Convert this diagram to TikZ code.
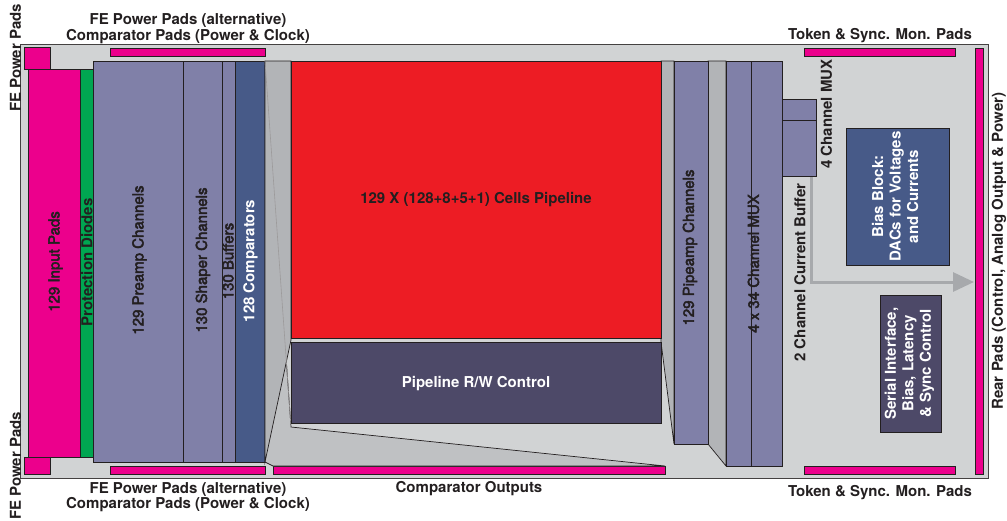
\documentclass[tikz,border=0pt]{standalone}
\usepackage{fontspec}
\setmainfont{TeX Gyre Heros}
\newcommand\medtxt[1]{\special{pdf:literal direct 2 Tr 0.45 w}#1\special{pdf:literal direct 0 Tr}}
\usetikzlibrary{arrows.meta}
\definecolor{chipbg}{HTML}{D1D3D4}
\definecolor{padm}{HTML}{EC008C}
\definecolor{diodeg}{HTML}{00A651}
\definecolor{lav}{HTML}{8080A8}
\definecolor{dblue}{HTML}{475A88}
\definecolor{pred}{HTML}{ED1C24}
\definecolor{rwc}{HTML}{4D4968}
\definecolor{fgrey}{HTML}{B2B4B7}
\definecolor{mgrey}{HTML}{BFC1C3}
\definecolor{agrey}{HTML}{A7A9AC}
\definecolor{edge}{HTML}{231F20}
\begin{document}
\begin{tikzpicture}[x=1pt,y=-1pt,
  blk/.style={draw=edge,line width=0.9pt},
  pad/.style={blk,fill=padm},
  lavbox/.style={blk,fill=lav},
  funnel/.style={fill=fgrey,draw=edge,line width=0.7pt},
  txtb/.style={inner sep=0pt,text height=10.8pt,text depth=0pt,text=edge,
    font=\fontsize{15}{18}\selectfont\bfseries},
  txtr/.style={inner sep=0pt,text height=10.8pt,text depth=0pt,text=edge,
    font=\fontsize{15}{18}\selectfont},
  multi/.style={inner sep=0pt,text=white,align=center,rotate=90,
    font=\fontsize{15}{17.5}\selectfont\bfseries},
  flow/.style={agrey,line width=3pt,-{Triangle[length=21pt,width=19pt]}}]
\useasboundingbox (0,0) rectangle (1007,520);
% chip
\filldraw[fill=chipbg,draw=edge!85,line width=0.8pt] (20,44) rectangle (988,478);
% pads
\filldraw[pad] (24,47) rectangle (50,69);
\filldraw[pad] (24,457) rectangle (50,474);
\filldraw[pad] (110,48) rectangle (265,56);
\filldraw[pad] (110,466) rectangle (265,474);
\filldraw[pad] (273,466) rectangle (665,474);
\filldraw[pad] (804,48) rectangle (955,56);
\filldraw[pad] (804,466) rectangle (955,474);
\filldraw[pad] (975,48) rectangle (983,474);
% front end
\filldraw[pad] (28,69) rectangle (80,457);
\filldraw[blk,fill=diodeg] (80,69) rectangle (93,457);
\filldraw[lavbox] (93,61) rectangle (183,462);
\filldraw[lavbox] (183,61) rectangle (222,462);
\filldraw[lavbox] (222,61) rectangle (235,462);
\filldraw[blk,fill=dblue] (235,61) rectangle (265,462);
% funnels
\filldraw[fill=mgrey,draw=edge,line width=0.7pt] (265,61) -- (291,427) -- (665,466) -- (273,466) -- (265,462) -- cycle;
\filldraw[funnel] (265,61) -- (291,61) -- (291,340) -- (265,462) -- cycle;
\draw[edge!45,line width=0.6pt] (265,61) -- (291,427);
\filldraw[funnel] (661,61) -- (674,61) -- (674,444) -- (661,342) -- cycle;
\filldraw[funnel] (708,61) -- (726,61) -- (726,466) -- (708,444) -- cycle;
% pipeline
\filldraw[blk,fill=pred] (291,61) rectangle (661,338);
\filldraw[blk,fill=rwc] (291,342) rectangle (661,423);
\filldraw[lavbox] (674,61) rectangle (708,444);
\filldraw[lavbox] (726,61) rectangle (751,466);
\filldraw[lavbox] (751,61) rectangle (782,466);
% output path
\coordinate (cbout) at (811,176);
\coordinate (rear) at (974,282);
\draw[flow] (cbout) |- (rear);
\filldraw[lavbox] (782,99) rectangle (816,120);
\filldraw[lavbox] (782,120) rectangle (816,176);
\filldraw[blk,fill=dblue] (846,128) rectangle (949,265);
\filldraw[blk,fill=rwc] (880,295) rectangle (941,432);
% outside labels
\node[txtb,anchor=base] (fet1) at (188,24) {FE Power Pads (alternative)};
\node[txtb,anchor=base] (fet2) at (188,40) {Comparator Pads (Power \& Clock)};
\node[txtb,anchor=base] (feb1) at (188,493) {FE Power Pads (alternative)};
\node[txtb,anchor=base] (feb2) at (188,508) {Comparator Pads (Power \& Clock)};
\node[txtb,anchor=base] (tokt) at (880,39) {Token \& Sync. Mon. Pads};
\node[txtb,anchor=base] (tokb) at (880,496) {Token \& Sync. Mon. Pads};
\node[txtb,anchor=base] (cmpo) at (469,492) {Comparator Outputs};
\node[txtb,rotate=90] (fepl1) at (15.5,58) {FE Power Pads};
\node[txtb,rotate=90] (fepl2) at (15.5,466) {FE Power Pads};
\node[txtb,rotate=90] (rearl) at (997.5,251) {Rear Pads (Control, Analog Output \& Power)};
% inside labels
\node[txtb,anchor=base] (cells) at (476,203) {129 X (128+8+5+1) Cells Pipeline};
\node[txtb,anchor=base,text=white] (rwl) at (476,387) {Pipeline R/W Control};
\node[txtr,rotate=90] (inl) at (54,261.5) {\medtxt{129 Input Pads}};
\node[txtb,rotate=90] (pdl) at (87,262.5) {Protection Diodes};
\node[txtr,rotate=90] (prl) at (138,260) {\medtxt{129 Preamp Channels}};
\node[txtr,rotate=90] (shl) at (201.5,260) {\medtxt{130 Shaper Channels}};
\node[txtr,rotate=90] (bul) at (228,261) {\medtxt{130 Buffers}};
\node[txtb,rotate=90,text=white] (col) at (249,261) {128 Comparators};
\node[txtr,rotate=90] (pil) at (688.5,247.5) {\medtxt{129 Pipeamp Channels}};
\node[txtr,rotate=90] (mxl) at (753.5,263.5) {\medtxt{4 x 34 Channel MUX}};
\node[txtb,rotate=90] (cbl) at (800,272.5) {2 Channel Current Buffer};
\node[txtb,rotate=90] (m4l) at (826.5,114) {4 Channel MUX};
\node[multi] (biasl) at (895,196.5) {Bias Block:\\DACs for Voltages\\and Currents};
\node[multi] (serl) at (909.5,363.5) {Serial Interface,\\Bias, Latency\\\& Sync Control};
\end{tikzpicture}
\end{document}
